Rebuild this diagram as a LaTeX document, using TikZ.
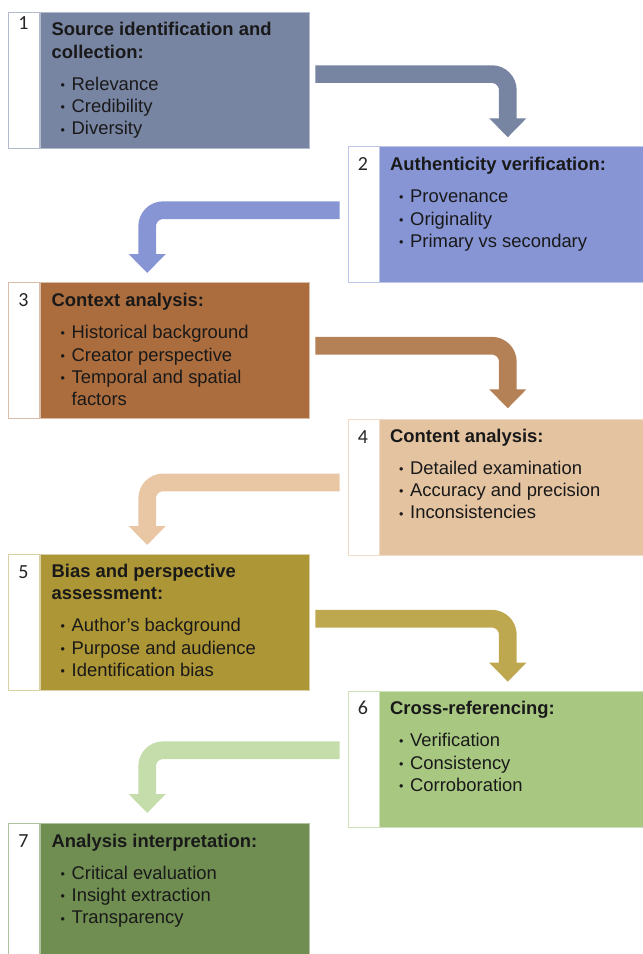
\documentclass[tikz,border=0pt]{standalone}
\usepackage{fontspec}
\setmainfont{Liberation Sans}
\newfontfamily\numfont{Carlito}
\usetikzlibrary{arrows.meta}

\definecolor{c1}{HTML}{7784A2}
\definecolor{c2}{HTML}{8795D5}
\definecolor{c3}{HTML}{AC6D3E}
\definecolor{c4}{HTML}{E4C3A1}
\definecolor{c5}{HTML}{AD9636}
\definecolor{c6}{HTML}{A8C882}
\definecolor{c7}{HTML}{708E52}
\definecolor{a3}{HTML}{B48056}
\definecolor{a4}{HTML}{E9C7A5}
\definecolor{a5}{HTML}{BDA84F}
\definecolor{a6}{HTML}{C4DDAA}

\newcommand{\itm}{\makebox[20pt][l]{\hspace{9pt}\raisebox{0.8pt}{\fontsize{12.5}{12.5}\selectfont •}}}

\begin{document}
\begin{tikzpicture}[x=1pt, y=-1pt, font=\fontsize{18.4}{22.4}\selectfont]
  \tikzstyle{strip}=[rectangle, draw, fill=white, minimum width=31pt, minimum height=136pt, inner sep=0pt, anchor=north west]
  \tikzstyle{panel}=[rectangle, draw, minimum width=269pt, minimum height=136pt, inner sep=0pt, anchor=north west]
  \tikzstyle{num}=[anchor=base, inner sep=0pt, font=\numfont\fontsize{20}{20}\selectfont, text=black!85]
  \tikzstyle{txt}=[anchor=base west, inner sep=0pt, align=left, text=black!90]
  \tikzstyle{flow}=[line width=17.7pt, rounded corners=16pt, -{Triangle[width=36pt, length=19pt]}]

  \useasboundingbox (0, 0) rectangle (643, 954);

  % step 1
  \node[strip, draw=c1!55!white] (s1) at (8, 11.7) {};
  \node[panel, fill=c1, draw=c1!55!white] (p1) at (39.5, 11.7) {};
  \node[num] (n1) at (23.5, 29.2) {1};
  \node[txt] (l1) at (51.5, 134.8) {\textbf{Source identification and}\\\textbf{collection:}\\[9.5pt]
    \itm Relevance\\\itm Credibility\\\itm Diversity};

  % step 2
  \node[strip, draw=c2!55!white] (s2) at (347.5, 146) {};
  \node[panel, fill=c2, draw=c2!55!white] (p2) at (378.5, 146) {};
  \node[num] (n2) at (363, 170) {2};
  \node[txt] (l2) at (390, 247.5) {\textbf{Authenticity verification:}\\[9.5pt]
    \itm Provenance\\\itm Originality\\\itm Primary vs secondary};

  % step 3
  \node[strip, draw=c3!45!white] (s3) at (8, 282.3) {};
  \node[panel, fill=c3, draw=c3!45!white] (p3) at (39.5, 282.3) {};
  \node[num] (n3) at (23.5, 306.3) {3};
  \node[txt] (l3) at (51.5, 405.8) {\textbf{Context analysis:}\\[9.5pt]
    \itm Historical background\\\itm Creator perspective\\\itm Temporal and spatial\\\hspace*{20pt}factors};

  % step 4
  \node[strip, draw=c4!60!white] (s4) at (347.5, 419) {};
  \node[panel, fill=c4, draw=c4!60!white] (p4) at (378.5, 419) {};
  \node[num] (n4) at (363, 443) {4};
  \node[txt] (l4) at (390, 518.8) {\textbf{Content analysis:}\\[9.5pt]
    \itm Detailed examination\\\itm Accuracy and precision\\\itm Inconsistencies};

  % step 5
  \node[strip, draw=c5!45!white] (s5) at (8, 554) {};
  \node[panel, fill=c5, draw=c5!45!white] (p5) at (39.5, 554) {};
  \node[num] (n5) at (23.5, 578) {5};
  \node[txt] (l5) at (51.5, 676.5) {\textbf{Bias and perspective}\\\textbf{assessment:}\\[9.5pt]
    \itm Author’s background\\\itm Purpose and audience\\\itm Identification bias};

  % step 6
  \node[strip, draw=c6!55!white] (s6) at (347.5, 690.7) {};
  \node[panel, fill=c6, draw=c6!55!white] (p6) at (378.5, 690.7) {};
  \node[num] (n6) at (363, 714.7) {6};
  \node[txt] (l6) at (390, 791.5) {\textbf{Cross-referencing:}\\[9.5pt]
    \itm Verification\\\itm Consistency\\\itm Corroboration};

  % step 7
  \node[strip, draw=c7!55!white] (s7) at (8, 823) {};
  \node[panel, fill=c7, draw=c7!55!white] (p7) at (39.5, 823) {};
  \node[num] (n7) at (23.5, 847) {7};
  \node[txt] (l7) at (51.5, 923.8) {\textbf{Analysis interpretation:}\\[9.5pt]
    \itm Critical evaluation\\\itm Insight extraction\\\itm Transparency};

  % arrow tips
  \coordinate (t2) at (507.8, 137.3);
  \coordinate (t3) at (147.2, 273);
  \coordinate (t4) at (507.8, 408.3);
  \coordinate (t5) at (147.2, 545);
  \coordinate (t6) at (507.8, 681.7);
  \coordinate (t7) at (147.2, 813);

  \draw[flow, c1] ([shift={(6.5,-5.8)}]p1.east) -| (t2);
  \draw[flow, c2] ([shift={(-8,-4)}]s2.west) -| (t3);
  \draw[flow, a3] ([shift={(6.5,-4.8)}]p3.east) -| (t4);
  \draw[flow, a4] ([shift={(-8,-4.8)}]s4.west) -| (t5);
  \draw[flow, a5] ([shift={(6.5,-3.5)}]p5.east) -| (t6);
  \draw[flow, a6] ([shift={(-8,-8.7)}]s6.west) -| (t7);
\end{tikzpicture}
\end{document}
